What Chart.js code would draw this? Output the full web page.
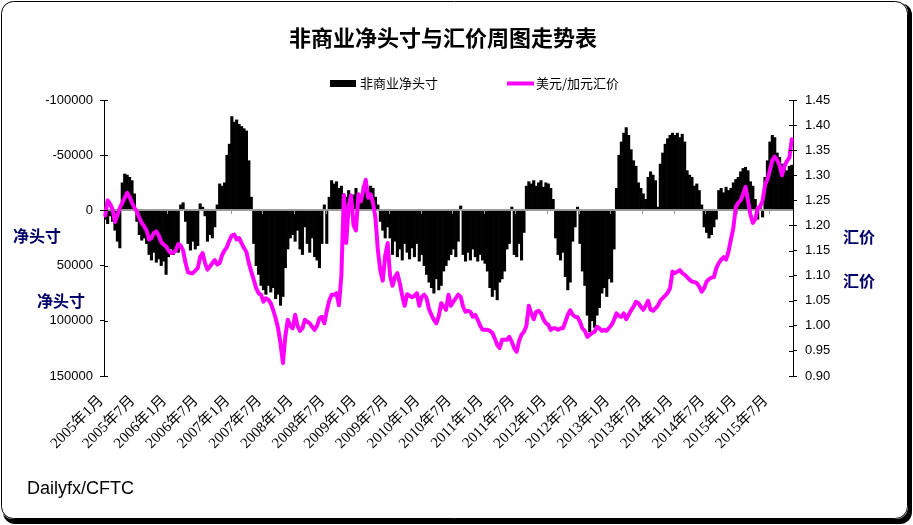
<!DOCTYPE html>
<html><head><meta charset="utf-8">
<script src="https://cdn.jsdelivr.net/npm/chart.js"></script>
<style>html,body{margin:0;padding:0;background:#fff}canvas{display:block}</style>
</head><body>
<canvas id="c" width="913" height="525"></canvas>
<script>
const tickLabels = ['2005年1月','2005年7月','2006年1月','2006年7月','2007年1月','2007年7月','2008年1月','2008年7月','2009年1月','2009年7月','2010年1月','2010年7月','2011年1月','2011年7月','2012年1月','2012年7月','2013年1月','2013年7月','2014年1月','2014年7月','2015年1月','2015年7月'];

// 非商业净头寸 (contracts), one value every two weeks
const netPositions = [
  8000,12000,5000,10000,18000,28000,34000,-25000,-33000,-32000,-30000,-27000,-15000,
  10000,22000,27000,25000,30000,40000,45000,38000,47000,44000,50000,46000,58000,
  42000,35000,40000,33000,38000,-5000,-7000,10000,30000,36000,28000,35000,32000,
  -6000,-3000,5000,28000,22000,25000,15000,-5000,-24000,-22000,-25000,-50000,-60000,
  -85000,-80000,-82000,-78000,-76000,-74000,-72000,-45000,-12000,30000,50000,58000,68000,
  72000,76000,68000,74000,70000,80000,76000,86000,78000,52000,35000,25000,22000,
  28000,18000,35000,40000,15000,30000,38000,25000,42000,45000,52000,30000,-5000,
  30000,-12000,-27000,-24000,-26000,-20000,-22000,-15000,-12000,-18000,-8000,-14000,-20000,
  -15000,-10000,-22000,-25000,-18000,-22000,-20000,-12000,-5000,10000,18000,25000,15000,
  25000,40000,28000,42000,35000,45000,30000,38000,44000,34000,42000,30000,46000,
  40000,50000,58000,65000,70000,75000,62000,72000,68000,55000,50000,45000,40000,
  35000,42000,28000,-4000,40000,46000,38000,45000,35000,42000,46000,40000,45000,
  48000,55000,70000,78000,72000,81000,65000,62000,55000,35000,30000,-3000,40000,
  42000,30000,45000,20000,-22000,-26000,-24000,-27000,-22000,-25000,-27000,-21000,-25000,
  -24000,-20000,-10000,25000,40000,45000,38000,60000,72000,65000,28000,15000,-3000,
  30000,55000,68000,95000,110000,100000,106000,95000,88000,75000,70000,78000,62000,
  65000,35000,-20000,-50000,-62000,-70000,-75000,-68000,-55000,-45000,-40000,-25000,-20000,
  -15000,-10000,-30000,-35000,-32000,-27000,-3000,-42000,-52000,-60000,-65000,-68000,-70000,
  -68000,-70000,-66000,-69000,-62000,-36000,-32000,-30000,-22000,-24000,-18000,-5000,15000,
  20000,25000,22000,15000,8000,-18000,-20000,-16000,-21000,-18000,-20000,-25000,-28000,
  -30000,-35000,-38000,-39000,-36000,-26000,-22000,-10000,8000,-5000,6000,-30000,-45000,
  -62000,-68000,-66000,-52000,-48000,-42000,-38000,-36000,-40000,-41000
];

// 美元/加元汇价, one value every two weeks
const usdCad = [
  1.220,1.250,1.243,1.232,1.207,1.220,1.235,1.245,1.255,1.265,1.257,1.245,1.235,
  1.228,1.215,1.205,1.198,1.190,1.172,1.175,1.185,1.188,1.180,1.167,1.162,1.158,
  1.150,1.145,1.146,1.150,1.163,1.160,1.150,1.125,1.107,1.105,1.105,1.110,1.115,
  1.137,1.145,1.125,1.112,1.118,1.125,1.131,1.122,1.125,1.141,1.150,1.157,1.170,
  1.180,1.182,1.172,1.175,1.165,1.155,1.147,1.125,1.108,1.092,1.075,1.065,1.062,
  1.048,1.055,1.052,1.045,1.031,1.015,0.995,0.965,0.926,0.980,1.012,1.000,0.995,
  1.022,1.000,0.990,0.995,1.012,1.008,1.005,0.998,0.992,1.000,1.015,1.018,1.005,
  1.030,1.050,1.062,1.062,1.065,1.041,1.100,1.260,1.165,1.240,1.260,1.200,1.190,
  1.262,1.248,1.270,1.291,1.255,1.262,1.245,1.215,1.150,1.110,1.090,1.140,1.165,
  1.100,1.080,1.097,1.105,1.085,1.060,1.040,1.063,1.060,1.057,1.060,1.065,1.040,
  1.058,1.062,1.055,1.033,1.022,1.012,1.005,1.020,1.045,1.038,1.032,1.062,1.040,
  1.048,1.055,1.062,1.058,1.038,1.028,1.030,1.028,1.018,1.022,1.012,1.000,0.992,
  0.992,0.992,0.990,0.986,0.975,0.962,0.956,0.972,0.972,0.972,0.978,0.968,0.955,
  0.948,0.970,0.982,0.988,1.000,1.040,1.025,1.013,1.028,1.030,1.025,1.013,1.005,
  1.002,0.992,0.995,0.995,0.992,0.995,0.995,1.008,1.022,1.031,1.022,1.018,1.017,
  1.008,0.995,0.990,0.978,0.982,0.986,0.988,0.998,0.995,0.990,0.992,0.990,0.996,
  1.002,1.012,1.025,1.020,1.018,1.025,1.013,1.022,1.031,1.038,1.048,1.045,1.038,
  1.032,1.040,1.050,1.032,1.030,1.035,1.040,1.050,1.055,1.060,1.066,1.075,1.108,
  1.105,1.108,1.111,1.105,1.102,1.097,1.092,1.088,1.087,1.085,1.078,1.068,1.075,
  1.088,1.093,1.096,1.097,1.115,1.125,1.132,1.137,1.132,1.148,1.172,1.195,1.237,
  1.245,1.250,1.262,1.277,1.250,1.222,1.205,1.212,1.235,1.237,1.250,1.280,1.292,
  1.310,1.330,1.337,1.330,1.320,1.300,1.318,1.328,1.335,1.372
];

// categories: report dates, every two weeks from 2005-01-04
const weeks = [];
for (let i = 0; i < netPositions.length; i++) {
  const d = new Date(Date.UTC(2005, 0, 4) + i * 14 * 86400000);
  weeks.push(d.toISOString().slice(0, 10));
}
const labelEvery = 13; // half a year of bi-weekly points

const CJK = "'Noto Sans CJK SC', sans-serif";

function rr(c, x, y, w, h, r) {
  c.beginPath();
  c.moveTo(x + r, y);
  c.lineTo(x + w - r, y); c.arcTo(x + w, y, x + w, y + r, r);
  c.lineTo(x + w, y + h - r); c.arcTo(x + w, y + h, x + w - r, y + h, r);
  c.lineTo(x + r, y + h); c.arcTo(x, y + h, x, y + h - r, r);
  c.lineTo(x, y + r); c.arcTo(x, y, x + r, y, r);
  c.closePath();
}

const decor = {
  id: 'decor',
  beforeDraw(chart) {
    const c = chart.ctx;
    c.save();
    c.fillStyle = '#fff'; c.fillRect(0, 0, chart.width, chart.height);
    c.fillStyle = '#000';
    rr(c, 3, 3, 909, 521, 12); c.fill();
    c.fillStyle = '#fff';
    rr(c, 1, 1, 907, 518, 12); c.fill();
    c.strokeStyle = '#000'; c.lineWidth = 1;
    rr(c, 1.5, 1.5, 906, 517, 12); c.stroke();
    c.restore();
  },
  afterDatasetDraw(chart, args) {
    if (args.index !== 0) return;
    const c = chart.ctx, a = chart.chartArea, x = chart.scales.x;
    const y0 = Math.round(chart.scales.y.getPixelForValue(0));
    c.save();
    c.strokeStyle = '#999'; c.lineWidth = 2;
    c.beginPath(); c.moveTo(a.left, y0); c.lineTo(a.right, y0); c.stroke();
    c.lineWidth = 1;
    const slot = (x.getPixelForValue(1) - x.getPixelForValue(0));
    for (let k = 1; k * labelEvery < weeks.length; k++) {
      const px = Math.round(x.getPixelForValue(k * labelEvery) - slot / 2) + 0.5;
      c.beginPath(); c.moveTo(px, y0); c.lineTo(px, y0 + 4); c.stroke();
    }
    c.restore();
  },
  afterDraw(chart) {
    const c = chart.ctx, a = chart.chartArea;
    c.save();
    // inner halves of axis ticks
    c.strokeStyle = '#000'; c.lineWidth = 1;
    chart.scales.y.ticks.forEach(t => {
      const p = Math.round(chart.scales.y.getPixelForValue(t.value)) + 0.5;
      c.beginPath(); c.moveTo(a.left, p); c.lineTo(a.left + 4, p); c.stroke();
    });
    chart.scales.y1.ticks.forEach(t => {
      const p = Math.round(chart.scales.y1.getPixelForValue(t.value)) + 0.5;
      c.beginPath(); c.moveTo(a.right - 4, p); c.lineTo(a.right, p); c.stroke();
    });
    // title
    c.fillStyle = '#000';
    c.textBaseline = 'middle';
    c.textAlign = 'center';
    c.font = 'bold 22px ' + CJK;
    c.fillText('非商业净头寸与汇价周图走势表', 443, 38);
    // legend
    c.textAlign = 'left';
    c.font = '13px ' + CJK;
    c.fillRect(330, 80, 26, 7);
    c.fillText(chart.data.datasets[0].label, 360, 83);
    c.strokeStyle = '#FF00FF'; c.lineWidth = 4;
    c.beginPath(); c.moveTo(507, 83.5); c.lineTo(534, 83.5); c.stroke();
    c.fillText(chart.data.datasets[1].label, 536, 83);
    // side labels
    c.fillStyle = '#000066';
    c.textAlign = 'center';
    c.font = 'bold 16px ' + CJK;
    c.fillText('净头寸', 37, 236);
    c.fillText('净头寸', 61, 301);
    c.fillText('汇价', 859, 237);
    c.fillText('汇价', 859, 281);
    // source
    c.fillStyle = '#000';
    c.textAlign = 'left';
    c.font = "18px 'Liberation Sans', Arial, sans-serif";
    c.fillText('Dailyfx/CFTC', 27, 489);
    c.restore();
  }
};

new Chart(document.getElementById('c'), {
  type: 'bar',
  data: {
    labels: weeks,
    datasets: [
      {
        type: 'bar', label: '非商业净头寸', data: netPositions, yAxisID: 'y',
        backgroundColor: '#000', borderWidth: 0, barPercentage: 1, categoryPercentage: 1, order: 1
      },
      {
        type: 'line', label: '美元/加元汇价', data: usdCad, yAxisID: 'y1',
        borderColor: '#FF00FF', borderWidth: 4, pointRadius: 0, tension: 0,
        borderJoinStyle: 'round', borderCapStyle: 'round', fill: false, order: 0
      }
    ]
  },
  options: {
    responsive: false, animation: false, devicePixelRatio: 1,
    layout: { padding: { top: 100, left: 0, right: 0, bottom: 0 } },
    plugins: { legend: { display: false }, title: { display: false }, tooltip: { enabled: false } },
    scales: {
      x: {
        grid: { display: false }, border: { display: false },
        ticks: {
          autoSkip: false, maxRotation: 45, minRotation: 45, padding: 8, labelOffset: -4,
          color: '#000', font: { family: "'Liberation Serif', 'Noto Sans CJK SC', serif", size: 15 },
          callback: (v, i) => (i % labelEvery === 0 ? tickLabels[i / labelEvery] : '')
        },
        afterFit: s => { s.height = 149; }
      },
      y: {
        position: 'left', reverse: true, min: -100000, max: 150000,
        grid: { display: true, drawOnChartArea: false, drawTicks: true, tickLength: 4, tickColor: '#000' },
        border: { display: true, color: '#000', width: 1 },
        ticks: { stepSize: 50000, padding: 7, color: '#000',
          font: { family: "'Liberation Sans', Arial, sans-serif", size: 13 },
          callback: v => String(v) },
        afterFit: s => { s.width = 104; }
      },
      y1: {
        position: 'right', min: 0.9, max: 1.45,
        grid: { display: true, drawOnChartArea: false, drawTicks: true, tickLength: 4, tickColor: '#000' },
        border: { display: true, color: '#000', width: 1 },
        ticks: { stepSize: 0.05, padding: 8, color: '#000',
          font: { family: "'Liberation Sans', Arial, sans-serif", size: 13 },
          callback: v => Number(v).toFixed(2) },
        afterFit: s => { s.width = 120; }
      }
    }
  },
  plugins: [decor]
});
</script>
</body></html>
